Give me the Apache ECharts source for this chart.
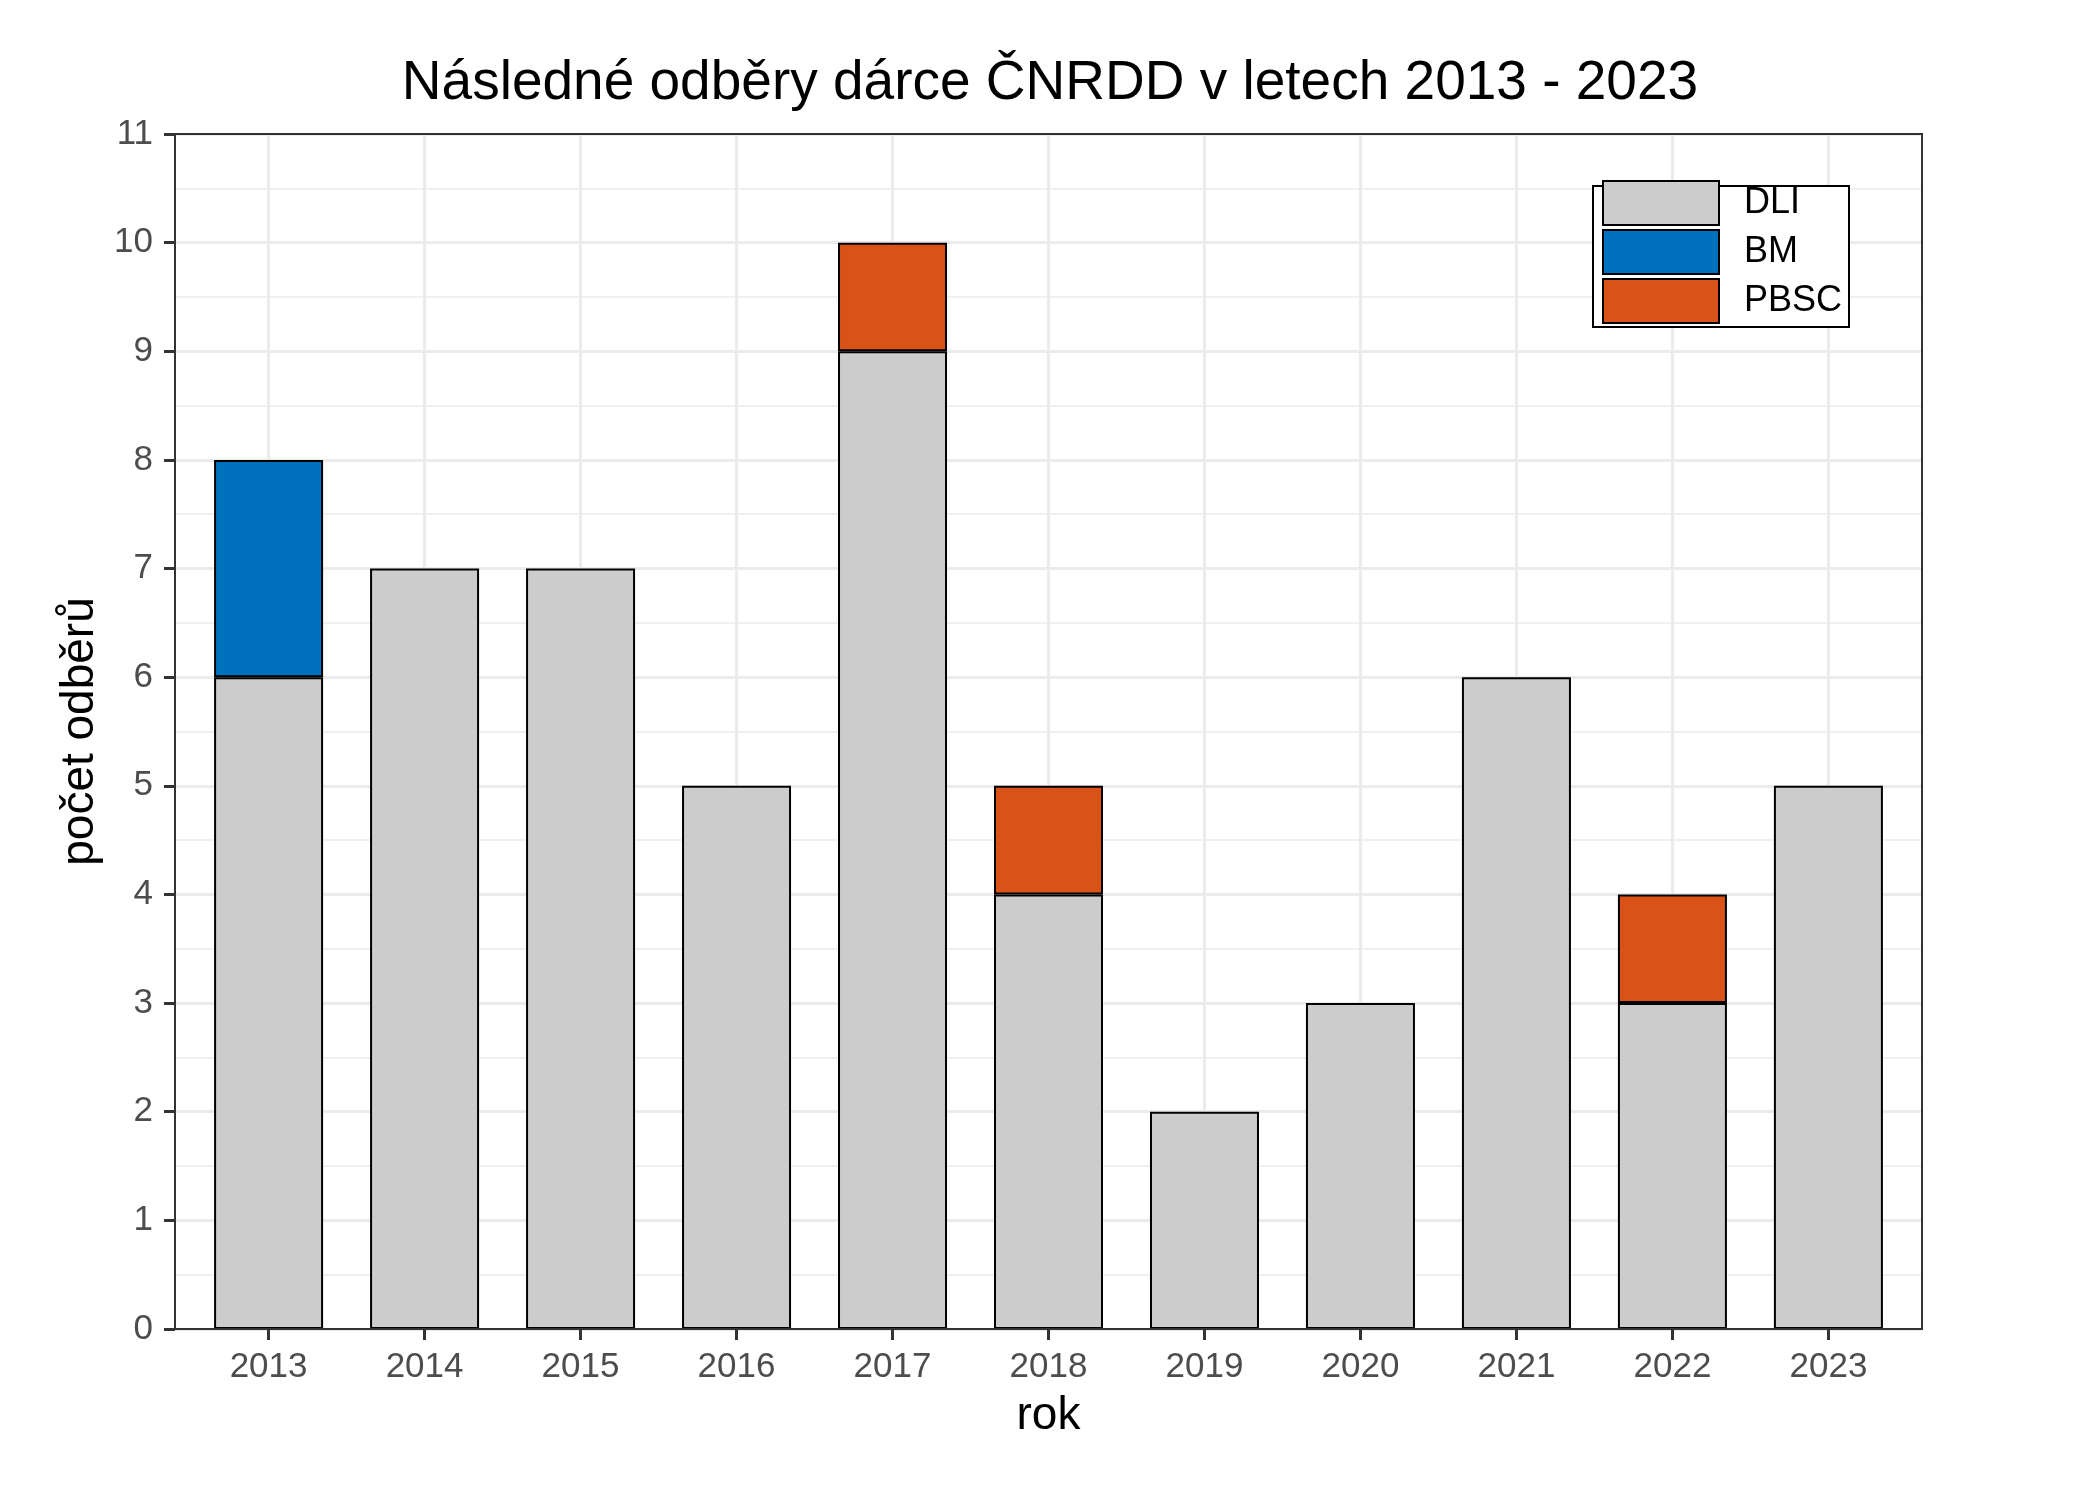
<!DOCTYPE html>
<html>
<head>
<meta charset="utf-8">
<script src="https://cdn.jsdelivr.net/npm/echarts@6/dist/echarts.min.js"></script>
<style>html,body{margin:0;padding:0;background:#fff}#c{width:2100px;height:1499px}</style>
</head>
<body>
<div id="c"></div>
<script>
const years = [2013, 2014, 2015, 2016, 2017, 2018, 2019, 2020, 2021, 2022, 2023];
const dli  = [6, 7, 7, 5, 9, 4, 2, 3, 6, 3, 5];
const bm   = [2, 0, 0, 0, 0, 0, 0, 0, 0, 0, 0];
const pbsc = [0, 0, 0, 0, 1, 1, 0, 0, 0, 1, 0];
const yTicks = [0, 1, 2, 3, 4, 5, 6, 7, 8, 9, 10, 11];

const FONT = 'Liberation Sans';
// value first, year second (so that stacking happens on the value dimension)
function pairs(vals) {
  return years.map((y, i) => [vals[i] === 0 ? '-' : vals[i], y]);
}
const border = { borderColor: '#000', borderWidth: 2 };

const chart = echarts.init(document.getElementById('c'), null, { renderer: 'canvas' });
chart.setOption({
  backgroundColor: '#fff',
  animation: false,
  title: {
    text: 'Následné odběry dárce ČNRDD v letech 2013 - 2023',
    left: 'center', top: 56, padding: 0,
    textStyle: { fontFamily: FONT, fontSize: 55, fontWeight: 'normal', color: '#000' }
  },
  grid: {
    left: 175, top: 134, width: 1747, height: 1195,
    show: false
  },
  legend: {
    left: 1602, top: 180, padding: 0, orient: 'vertical', icon: 'rect',
    itemWidth: 116, itemHeight: 44, itemGap: 3, z: 10,
    data: ['DLI', 'BM', 'PBSC'],
    textStyle: { fontFamily: FONT, fontSize: 36, color: '#000', padding: [0, 0, 0, 20] }
  },
  graphic: [{
    type: 'rect', z: 5,
    shape: { x: 1593, y: 186, width: 256, height: 141 },
    style: { fill: '#fff', stroke: '#000', lineWidth: 2 }
  }, {
    type: 'rect', z: 20, silent: true,
    shape: { x: 175, y: 134, width: 1747, height: 1195 },
    style: { fill: null, stroke: '#333', lineWidth: 2 }
  }],
  xAxis: {
    type: 'value', min: 2012.4, max: 2023.6,
    name: 'rok', nameLocation: 'middle', nameGap: 64,
    nameTextStyle: { fontFamily: FONT, fontSize: 46, color: '#000' },
    axisLine: { show: false },
    axisTick: { show: true, customValues: years, length: 11, lineStyle: { color: '#333', width: 3 } },
    axisLabel: { customValues: years, margin: 21, fontFamily: FONT, fontSize: 35, color: '#4D4D4D',
      formatter: v => String(v) },
    splitLine: { show: true, lineStyle: { color: '#EBEBEB', width: 3 } }
  },
  yAxis: {
    type: 'value', min: 0, max: 11, interval: 1,
    name: 'počet odběrů', nameLocation: 'middle', nameGap: 68, nameRotate: 90,
    nameTextStyle: { fontFamily: FONT, fontSize: 46, color: '#000' },
    axisLine: { show: false },
    axisTick: { show: true, length: 11, lineStyle: { color: '#333', width: 3 } },
    axisLabel: { margin: 22, fontFamily: FONT, fontSize: 35, color: '#4D4D4D',
      formatter: v => yTicks.includes(v) ? String(v) : '' },
    splitLine: { show: true, lineStyle: { color: '#EBEBEB', width: 3 } },
    minorTick: { show: false, splitNumber: 2 },
    minorSplitLine: { show: true, lineStyle: { color: '#EBEBEB', width: 1.5 } }
  },
  series: [
    { name: 'DLI', type: 'bar', stack: 'total', barWidth: 109, data: pairs(dli),
      encode: { x: 1, y: 0 },
      itemStyle: Object.assign({ color: '#CCCCCC' }, border) },
    { name: 'BM', type: 'bar', stack: 'total', barWidth: 109, data: pairs(bm),
      encode: { x: 1, y: 0 },
      itemStyle: Object.assign({ color: '#0072BD' }, border) },
    { name: 'PBSC', type: 'bar', stack: 'total', barWidth: 109, data: pairs(pbsc),
      encode: { x: 1, y: 0 },
      itemStyle: Object.assign({ color: '#D95319' }, border) }
  ]
});
</script>
</body>
</html>
